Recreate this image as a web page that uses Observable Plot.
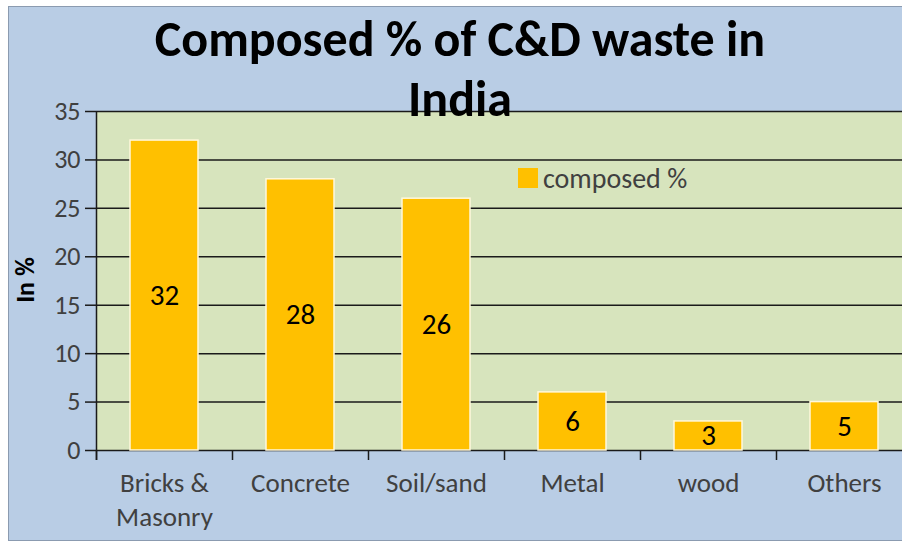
<!DOCTYPE html>
<html>
<head>
<meta charset="utf-8">
<script src="https://cdn.jsdelivr.net/npm/d3@7"></script>
<script src="https://cdn.jsdelivr.net/npm/@observablehq/plot@0.6"></script>
<style>
  html, body { margin: 0; padding: 0; background: #ffffff; }
  body { width: 902px; height: 542px; position: relative; overflow: hidden; font-family: Carlito, Calibri, Lato, sans-serif; }
  #panel { position: absolute; left: 8px; top: 6px; width: 900px; height: 533px; background: #b9cde5; border-left: 1px solid #8b9bb0; border-top: 1px solid #8b9bb0; border-bottom: 1px solid #8b9bb0; }
  #chart { position: absolute; left: 0; top: 0; }
  #title { position: absolute; left: 60px; width: 800px; top: 9px; text-align: center; font-weight: bold; font-size: 50px; line-height: 60px; color: #000; }
  #ylabel { position: absolute; left: 25px; top: 280px; transform: translate(-50%, -50%) rotate(-90deg); font-weight: bold; font-size: 26px; color: #000; white-space: nowrap; }
  #legend { position: absolute; left: 518px; top: 163px; height: 30px; display: flex; align-items: center; font-size: 28px; color: #404040; }
  #legend .sw { width: 20px; height: 20px; background: #ffc000; margin-right: 5px; }
</style>
</head>
<body>
<div id="panel"></div>
<div id="chart"></div>
<div id="title">Composed % of C&amp;D waste in<br>India</div>
<div id="ylabel">In %</div>
<div id="legend"><div class="sw"></div><span>composed %</span></div>
<script>
const categories = ["Bricks & Masonry", "Concrete", "Soil/sand", "Metal", "wood", "Others"];
const values = [32, 28, 26, 6, 3, 5];
const tickLabels = ["Bricks &\nMasonry", "Concrete", "Soil/sand", "Metal", "wood", "Others"];
const yTicks = [0, 5, 10, 15, 20, 25, 30, 35];

const data = categories.map((c, i) => ({category: c, value: values[i]}));
const labelOf = new Map(categories.map((c, i) => [c, tickLabels[i]]));

const halfStep = 68;

const chart = Plot.plot({
  width: 902,
  height: 542,
  marginTop: 111,
  marginBottom: 92,
  marginLeft: 96,
  marginRight: 0,
  style: {background: "transparent", fontFamily: "Carlito, Calibri, Lato, sans-serif", overflow: "visible"},
  x: {domain: categories, range: [96, 912], paddingInner: 0.5, paddingOuter: 0.25, axis: null},
  y: {domain: [0, 35], axis: null},
  marks: [
    Plot.frame({fill: "#d7e4bd", stroke: null}),
    Plot.gridY(yTicks, {stroke: "#1a1a1a", strokeOpacity: 1, strokeWidth: 1.5}),
    Plot.axisY(yTicks, {tickSize: 11, text: null, label: null, stroke: "#1a1a1a", strokeWidth: 1.5}),
    Plot.axisY(yTicks, {tickSize: 0, tickPadding: 16, fontSize: 26, fill: "#404040", label: null}),
    Plot.ruleX([categories[0]], {x: d => d, dx: -halfStep, y1: 0, y2: 35, insetTop: 10, stroke: "#1a1a1a", strokeWidth: 1.5}),
    Plot.ruleX(categories, {x: d => d, dx: -halfStep, y1: 0, y2: 0, insetTop: 10, stroke: "#1a1a1a", strokeWidth: 1.5}),
    Plot.barY(data, {x: "category", y: "value", fill: "#ffc000", stroke: "#fff8dc", strokeWidth: 1.5}),
    Plot.text(data, {x: "category", y: d => d.value / 2, text: d => String(d.value), fontSize: 29, fill: "#000"}),
    Plot.axisX({tickSize: 0, tickPadding: 17, tickFormat: d => labelOf.get(d), fontSize: 27, lineHeight: 1.26, fill: "#404040", label: null})
  ]
});
document.getElementById("chart").appendChild(chart);
</script>
</body>
</html>
